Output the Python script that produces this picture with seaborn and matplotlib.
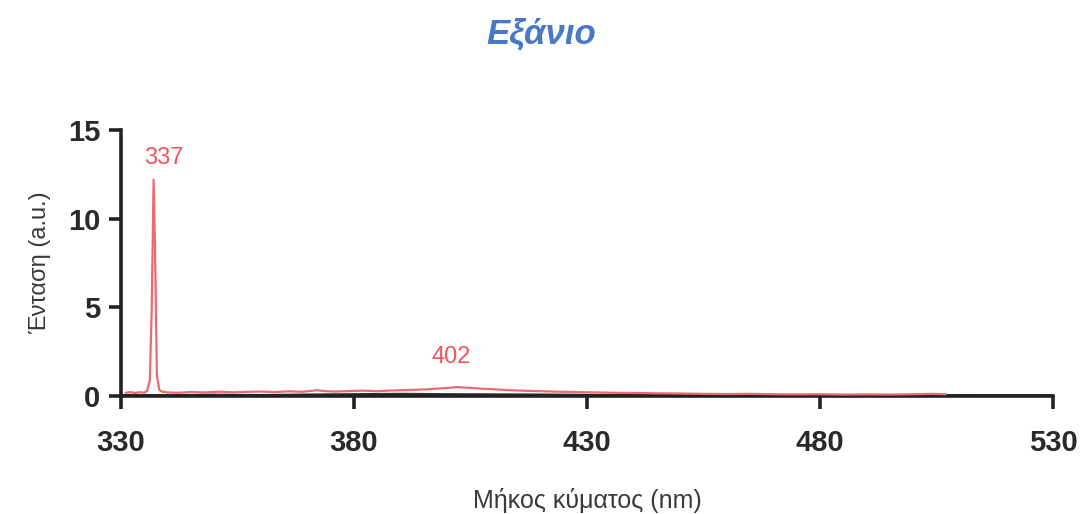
import matplotlib
matplotlib.use("Agg")
import matplotlib.pyplot as plt
import seaborn as sns
import pandas as pd

# Emission spectrum of hexane (intensity in arbitrary units)
red_nm = [331, 332, 333, 334, 335, 335.6, 336.2, 336.6, 337.0, 337.3, 337.7, 338.2, 338.8,
          340, 342, 345, 348, 351, 354, 357, 360, 363, 366, 369, 372, 374, 376, 379,
          382, 385, 388, 391, 394, 396, 398, 400, 402, 404, 406, 408, 410, 413, 416,
          420, 424, 428, 432, 436, 440, 445, 450, 455, 460, 465, 470, 475, 480, 485,
          490, 495, 500, 504, 507]
red_int = [0.18, 0.22, 0.17, 0.21, 0.19, 0.28, 0.9, 5.0, 12.2, 8.5, 1.2, 0.35, 0.24,
           0.2, 0.18, 0.22, 0.2, 0.24, 0.21, 0.23, 0.25, 0.22, 0.26, 0.24, 0.32, 0.27,
           0.25, 0.28, 0.3, 0.27, 0.31, 0.33, 0.36, 0.38, 0.42, 0.45, 0.5, 0.47, 0.44,
           0.4, 0.38, 0.33, 0.3, 0.27, 0.24, 0.22, 0.2, 0.18, 0.17, 0.15, 0.14, 0.12,
           0.11, 0.12, 0.1, 0.09, 0.1, 0.08, 0.09, 0.08, 0.1, 0.12, 0.1]

# Blank / baseline trace
black_nm = [330, 340, 350, 360, 370, 380, 390, 400, 410, 420, 430, 440, 450, 460,
            470, 480, 490, 500, 510, 520, 530]
black_int = [0.05, 0.04, 0.07, 0.05, 0.08, 0.1, 0.12, 0.1, 0.09, 0.08, 0.06, 0.05,
             0.04, 0.05, 0.04, 0.05, 0.04, 0.05, 0.04, 0.05, 0.04]

peak_labels = ["337", "402"]
peak_x = [337, 402]
peak_y = [12.2, 0.5]

x_ticks = [330, 380, 430, 480, 530]
y_ticks = [0, 5, 10, 15]

title_text = "Εξάνιο"
xlabel_text = "Μήκος κύματος (nm)"
ylabel_text = "Ένταση (a.u.)"

sns.set_theme(style="white")
plt.rcParams["font.family"] = ["Liberation Sans", "DejaVu Sans"]

red_df = pd.DataFrame({"nm": red_nm, "intensity": red_int})
black_df = pd.DataFrame({"nm": black_nm, "intensity": black_int})

fig = plt.figure(figsize=(10.83, 5.14), dpi=100)
ax = fig.add_axes([0.1117, 0.2296, 0.8606, 0.5175])

sns.lineplot(data=black_df, x="nm", y="intensity", ax=ax, color="#333333",
             linewidth=1.6, zorder=2)
sns.lineplot(data=red_df, x="nm", y="intensity", ax=ax, color="#ec6a72",
             linewidth=1.6, zorder=3)

ax.set_xlim(330, 530)
ax.set_ylim(0, 15)
ax.set_xticks(x_ticks)
ax.set_yticks(y_ticks)
ax.tick_params(axis="both", which="major", direction="out", length=9, width=2.6,
               color="#222222", labelsize=21, labelcolor="#2a2a2a", pad=6,
               bottom=True, left=True)
for lab in ax.get_xticklabels() + ax.get_yticklabels():
    lab.set_fontweight("bold")
ax.tick_params(axis="x", pad=15)

for side in ["top", "right"]:
    ax.spines[side].set_visible(False)
for side in ["left", "bottom"]:
    ax.spines[side].set_linewidth(2.6)
    ax.spines[side].set_color("#222222")

# peak annotations
ax.annotate(peak_labels[0], xy=(peak_x[0], peak_y[0]), xytext=(peak_x[0] + 2.2, 13.4),
            ha="center", va="center", fontsize=17, color="#ef5560")
ax.annotate(peak_labels[1], xy=(peak_x[1], peak_y[1]), xytext=(peak_x[1] - 1.2, 2.2),
            ha="center", va="center", fontsize=17, color="#ef5560")

ax.set_xlabel(xlabel_text, fontsize=18, color="#3a3a3a", labelpad=22)
ax.set_ylabel(ylabel_text, fontsize=17, color="#3a3a3a", labelpad=12)

fig.text(0.5, 0.934, title_text, ha="center", va="center", fontsize=25,
         color="#4a78c8", fontweight="bold", fontstyle="italic")

fig.savefig("out.png", dpi=100, facecolor="white")
